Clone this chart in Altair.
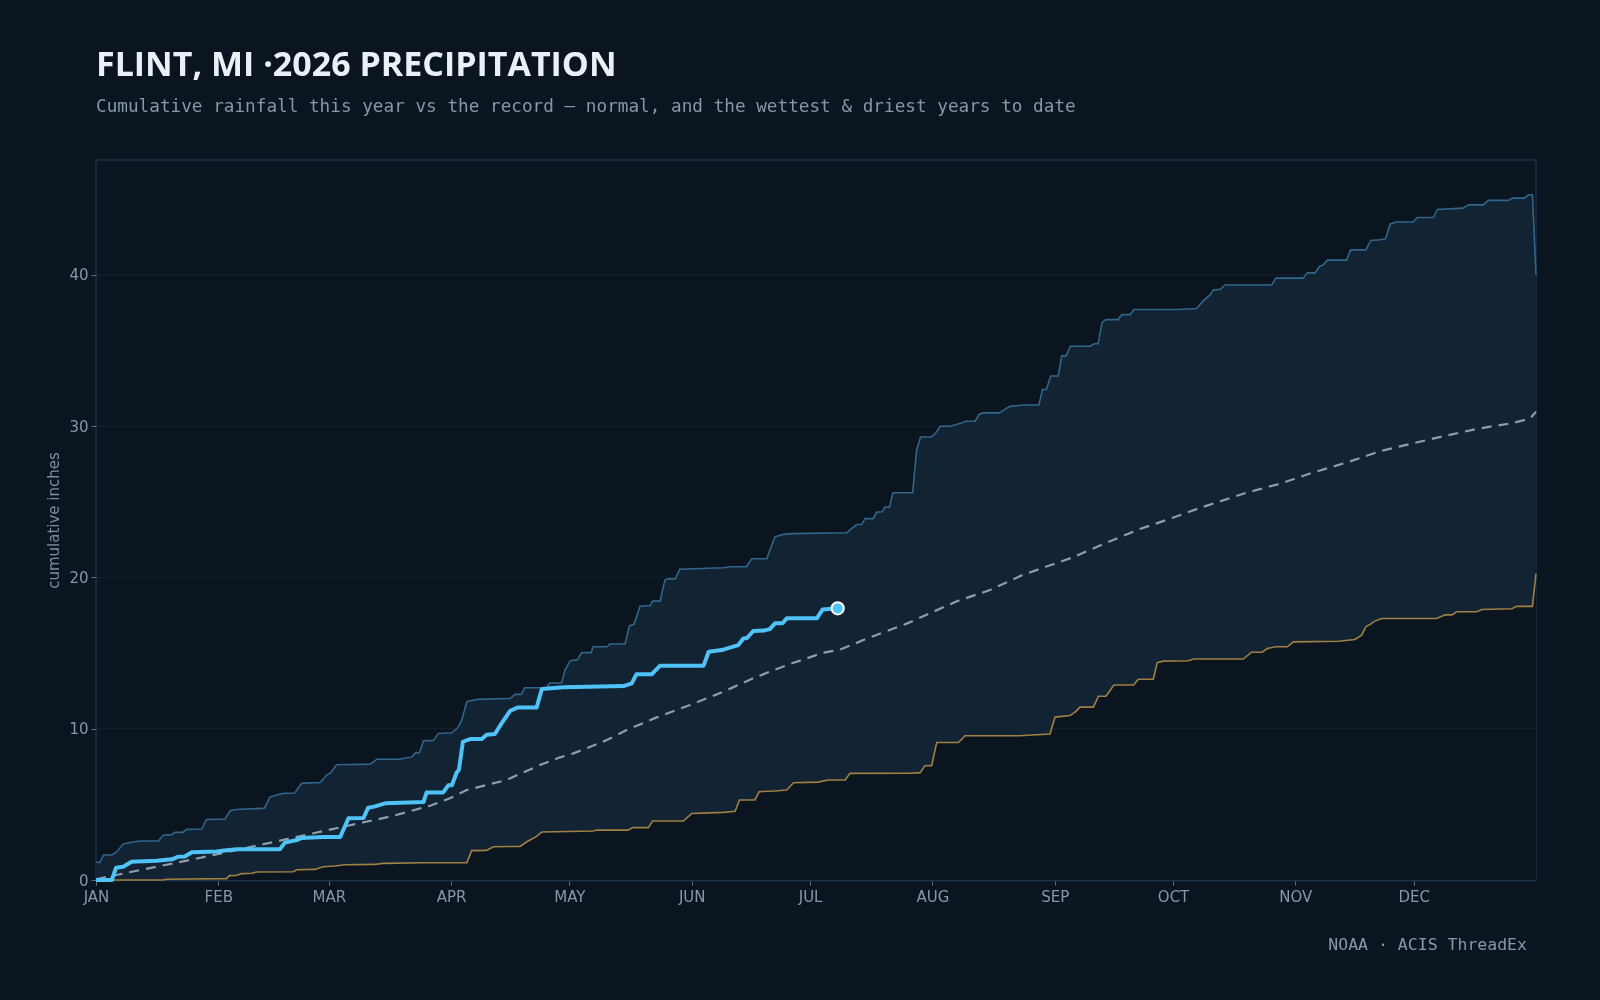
import altair as alt
import pandas as pd

# ---------------- data ----------------
month_days = [0, 31, 59, 90, 120, 151, 181, 212, 243, 273, 304, 334]
month_labels = ["JAN", "FEB", "MAR", "APR", "MAY", "JUN", "JUL", "AUG", "SEP", "OCT", "NOV", "DEC"]
y_ticks = [0, 10, 20, 30, 40]
grid_vals = [10, 20, 30, 40]

wet_day = [0, 1, 1.9, 4, 5.2, 6.9, 9, 11.2, 15.8, 17.1, 19.2, 20, 22, 23, 26.8, 28, 32.7, 34, 35.5, 40.7,
           42.7, 44.1, 45.8, 47.5, 50.4, 52.1, 54, 56.8, 58.5, 59.5, 61, 69.5, 71.2, 77, 79, 80, 81, 82, 83,
           85.5, 86.8, 90.2, 91.8, 92.7, 94, 95, 96.5, 105, 106.2, 107.8, 108.7, 114.2, 115, 118, 118.9, 120.2,
           122, 123.1, 125.5, 126, 129.5, 130.3, 134.1, 135.2, 136.4, 137.9, 140.5, 141.1, 143, 144.2, 145,
           146.8, 148, 159, 160.6, 164.9, 166.2, 170, 172.1, 174.2, 176.5, 190.3, 192.8, 194.1, 194.9, 197,
           197.9, 199.3, 200, 201.1, 202, 207, 208, 209, 211.8, 213, 214, 216.5, 219.4, 220.4, 222.8, 223.9,
           224.9, 229, 230.5, 231.7, 235, 239, 239.9, 240.9, 242, 243.9, 244.8, 245.9, 247, 252, 253, 254, 255,
           256, 259.1, 260, 262.1, 263.1, 273.9, 279, 280.7, 282.4, 283.2, 285, 286.2, 298, 299.1, 306, 307,
           309, 310.1, 311, 312.1, 317, 318, 321.9, 323.1, 325.5, 326.9, 328, 329.5, 333.9, 334.9, 339, 340,
           346.5, 347.9, 351.7, 352.9, 358, 359, 362, 363.1, 364.1, 365]
wet_val = [1.17, 1.17, 1.65, 1.65, 1.85, 2.38, 2.5, 2.58, 2.58, 2.97, 3.0, 3.15, 3.15, 3.35, 3.37, 4.0, 4.03,
           4.58, 4.66, 4.72, 4.75, 5.5, 5.62, 5.73, 5.75, 6.39, 6.42, 6.45, 6.94, 7.1, 7.62, 7.66, 7.98, 7.98,
           8.1, 8.12, 8.42, 8.42, 9.2, 9.23, 9.69, 9.73, 10.1, 10.57, 11.79, 11.85, 11.94, 12.0, 12.27, 12.27,
           12.71, 12.71, 13.02, 13.02, 13.88, 14.5, 14.55, 15.03, 15.03, 15.42, 15.42, 15.6, 15.6, 16.79, 16.92,
           18.1, 18.15, 18.44, 18.44, 19.83, 19.91, 19.91, 20.55, 20.64, 20.71, 20.71, 21.24, 21.24, 22.69,
           22.85, 22.9, 22.96, 23.5, 23.5, 23.89, 23.89, 24.32, 24.35, 24.65, 24.65, 25.6, 25.6, 28.43, 29.29,
           29.29, 29.6, 30.0, 30.0, 30.21, 30.33, 30.33, 30.8, 30.88, 30.88, 31.15, 31.31, 31.4, 31.41, 32.43,
           32.43, 33.32, 33.32, 34.65, 34.65, 35.29, 35.29, 35.45, 35.45, 36.85, 37.05, 37.05, 37.38, 37.38,
           37.72, 37.72, 37.78, 38.3, 38.68, 39.0, 39.05, 39.34, 39.34, 39.79, 39.79, 40.14, 40.14, 40.56,
           40.65, 40.98, 40.98, 41.66, 41.66, 42.28, 42.33, 42.4, 43.36, 43.5, 43.5, 43.8, 43.8, 44.33, 44.42,
           44.63, 44.63, 44.93, 44.93, 45.08, 45.08, 45.3, 45.3, 40.0]

dry_day = [0, 17, 18, 33.1, 33.8, 35.5, 36.9, 39.5, 40.7, 50, 50.9, 55.5, 57.6, 60.5, 63.1, 70.5, 72.8, 83, 94,
           95.2, 99, 100.7, 107.5, 109.2, 110, 111.3, 113, 126, 127, 134.9, 136, 140, 141.1, 148.9, 151, 159,
           162, 163.1, 167, 168.1, 172, 175.1, 176.8, 183, 185.6, 189.9, 191.1, 206.5, 208.9, 210.1, 211.8,
           213.1, 218.6, 220.3, 234, 241.8, 243.1, 246.9, 248.4, 249.4, 252.8, 254.1, 256, 258, 263, 264.2,
           268, 269, 270.5, 276.9, 278.2, 290.8, 292.9, 295.6, 296.9, 299, 302, 303.5, 315, 319.1, 320.8,
           321.9, 323, 324, 325.9, 339.8, 342, 343.7, 344.9, 350, 351.3, 358.9, 360.1, 364.1, 365]
dry_val = [0, 0, 0.05, 0.09, 0.29, 0.3, 0.42, 0.45, 0.53, 0.55, 0.68, 0.7, 0.88, 0.93, 1.01, 1.03, 1.1, 1.14,
           1.14, 1.94, 1.96, 2.2, 2.22, 2.53, 2.64, 2.82, 3.17, 3.24, 3.3, 3.3, 3.46, 3.46, 3.9, 3.9, 4.4, 4.47,
           4.54, 5.29, 5.29, 5.84, 5.88, 5.95, 6.43, 6.47, 6.61, 6.61, 7.05, 7.06, 7.1, 7.55, 7.55, 9.09, 9.09,
           9.54, 9.54, 9.65, 10.77, 10.87, 11.15, 11.43, 11.43, 12.15, 12.15, 12.89, 12.89, 13.27, 13.27, 14.37,
           14.47, 14.49, 14.61, 14.61, 15.06, 15.06, 15.3, 15.42, 15.42, 15.74, 15.78, 15.9, 16.19, 16.75, 16.9,
           17.1, 17.29, 17.29, 17.53, 17.53, 17.73, 17.73, 17.88, 17.93, 18.09, 18.09, 20.26]

norm_day = [0, 11.2, 23.8, 36.5, 49.2, 61.9, 74.5, 84.7, 89.7, 94, 104, 112.5, 117.6, 121, 129.5, 134.5, 142.1,
            150.6, 159, 167.5, 175.9, 184.4, 188.6, 196.2, 205.5, 218.2, 226.6, 235.1, 247.7, 256.2, 264.6,
            273.1, 279.8, 291.7, 300.1, 308.6, 317, 325.5, 333.9, 342.4, 350.8, 359.3, 363.5, 365]
norm_val = [0.05, 0.66, 1.32, 2.03, 2.75, 3.48, 4.19, 4.91, 5.4, 5.95, 6.61, 7.6, 8.11, 8.37, 9.25, 9.91, 10.75,
            11.57, 12.45, 13.44, 14.28, 15.03, 15.23, 16.04, 16.95, 18.43, 19.17, 20.19, 21.34, 22.31, 23.2,
            23.96, 24.6, 25.61, 26.2, 26.95, 27.6, 28.35, 28.88, 29.39, 29.86, 30.22, 30.51, 30.96]

ty_day = [0, 4, 5.1, 6.9, 9, 15.4, 19.2, 20.9, 22.5, 24.3, 30.6, 32.5, 35.7, 46.6, 47.9, 50.9, 52.1, 57.6, 61.9,
          64, 67.8, 69, 70.5, 73.3, 83, 83.8, 88, 89.3, 90.2, 91.4, 92, 93, 94.8, 97.8, 99, 101.1, 102.8, 105,
          107, 111.7, 113, 118.5, 133.7, 135.8, 137, 140.9, 143, 154, 155.3, 158.6, 162.8, 164.1, 165, 166.6,
          169.5, 170.8, 172.1, 174, 175.1, 182.7, 184.2, 188]
ty_val = [0, 0, 0.81, 0.88, 1.21, 1.27, 1.37, 1.54, 1.56, 1.83, 1.89, 1.95, 2.03, 2.03, 2.47, 2.64, 2.78, 2.84,
          2.84, 4.08, 4.1, 4.78, 4.85, 5.07, 5.15, 5.79, 5.79, 6.26, 6.26, 7.09, 7.3, 9.14, 9.32, 9.32, 9.6, 9.65,
          10.35, 11.19, 11.41, 11.41, 12.62, 12.74, 12.82, 13.0, 13.61, 13.61, 14.17, 14.17, 15.09, 15.2, 15.53,
          15.97, 16.0, 16.46, 16.5, 16.59, 16.97, 16.97, 17.3, 17.3, 17.89, 17.96]

title_text = "FLINT, MI \u00b72026 PRECIPITATION"
subtitle_text = "Cumulative rainfall this year vs the record \u2014 normal, and the wettest & driest years to date"
source_text = "NOAA \u00b7 ACIS ThreadEx"

# ---------------- styling ----------------
BG = "#0b1520"
BAND = "#122333"
GRID = "#122230"
WET = "#31658c"
DRY = "#a08044"
NORM = "#8e9dab"
TY = "#4fc3f7"
MUTED = "#8797aa"

wet = pd.DataFrame({"day": wet_day, "value": wet_val})
dry = pd.DataFrame({"day": dry_day, "value": dry_val})
norm = pd.DataFrame({"day": norm_day, "value": norm_val})
ty = pd.DataFrame({"day": ty_day, "value": ty_val})
last = pd.DataFrame({"day": [ty_day[-1]], "value": [ty_val[-1]]})
grid = pd.DataFrame({"value": grid_vals})
src = pd.DataFrame({"t": [source_text]})

label_expr = "[{}][indexof([{}], datum.value)]".format(
    ",".join("'" + m + "'" for m in month_labels), ",".join(str(d) for d in month_days))

xscale = alt.Scale(domain=[0, 365], nice=False, zero=False)
yscale = alt.Scale(domain=[0, 47.6], nice=False)

X = alt.X("day:Q", scale=xscale, axis=alt.Axis(
    values=month_days, labelExpr=label_expr, title=None, grid=False,
    labelFont="DejaVu Sans", labelFontSize=15, labelColor=MUTED, labelPadding=4,
    labelFlush=False, labelOverlap=False,
    tickColor="#5d6e80", tickSize=5, domainColor="#1d3449", domainWidth=1.5))
Y = alt.Y("value:Q", scale=yscale, axis=alt.Axis(
    values=y_ticks, title="cumulative inches", grid=False,
    labelFont="DejaVu Sans", labelFontSize=15, labelColor=MUTED, labelPadding=3,
    tickColor="#5d6e80", tickSize=5, domain=False,
    titleFont="DejaVu Sans", titleFontSize=15, titleFontWeight="normal", titleColor="#7c8d9f",
    titlePadding=7))

band = alt.Chart(wet).mark_area(color=BAND, opacity=1).encode(x=X, y=Y)
mask = alt.Chart(dry).mark_area(color=BG, opacity=1).encode(x=X, y=Y)
grid_l = alt.Chart(grid).mark_rule(color=GRID, strokeWidth=1, blend="lighten").encode(y=Y)
wet_l = alt.Chart(wet).mark_line(color=WET, strokeWidth=1.6).encode(x=X, y=Y)
dry_l = alt.Chart(dry).mark_line(color=DRY, strokeWidth=1.6).encode(x=X, y=Y)
norm_l = alt.Chart(norm).mark_line(color=NORM, strokeWidth=2.2, strokeDash=[10, 7]).encode(x=X, y=Y)
ty_l = alt.Chart(ty).mark_line(color=TY, strokeWidth=4, strokeJoin="round").encode(x=X, y=Y)
pt = alt.Chart(last).mark_circle(size=150, fill=TY, stroke="#ffffff", strokeWidth=2, opacity=1).encode(x=X, y=Y)
foot = alt.Chart(src).mark_text(align="right", baseline="alphabetic", font="DejaVu Sans Mono",
                                fontSize=16.5, color=MUTED).encode(
    x=alt.value(1431), y=alt.value(790), text="t:N")

chart = alt.layer(band, mask, grid_l, wet_l, dry_l, norm_l, ty_l, pt, foot).properties(
    width=1440, height=720,
    padding={"left": 96, "top": 160, "right": 64, "bottom": 120},
    autosize=alt.AutoSizeParams(type="none"),
    background=BG,
    title=alt.Title(
        text=title_text, subtitle=subtitle_text, anchor="start", frame="group", offset=44,
        font="Open Sans", fontSize=34, fontWeight="bold", color="#eaf0f6",
        subtitleFont="DejaVu Sans Mono", subtitleFontSize=17.7, subtitleColor=MUTED, subtitlePadding=15),
).configure_view(stroke="#1a2e42", strokeWidth=1.5, fill=BG)

chart.save("out.html", embed_options={"renderer": "svg", "actions": False})
